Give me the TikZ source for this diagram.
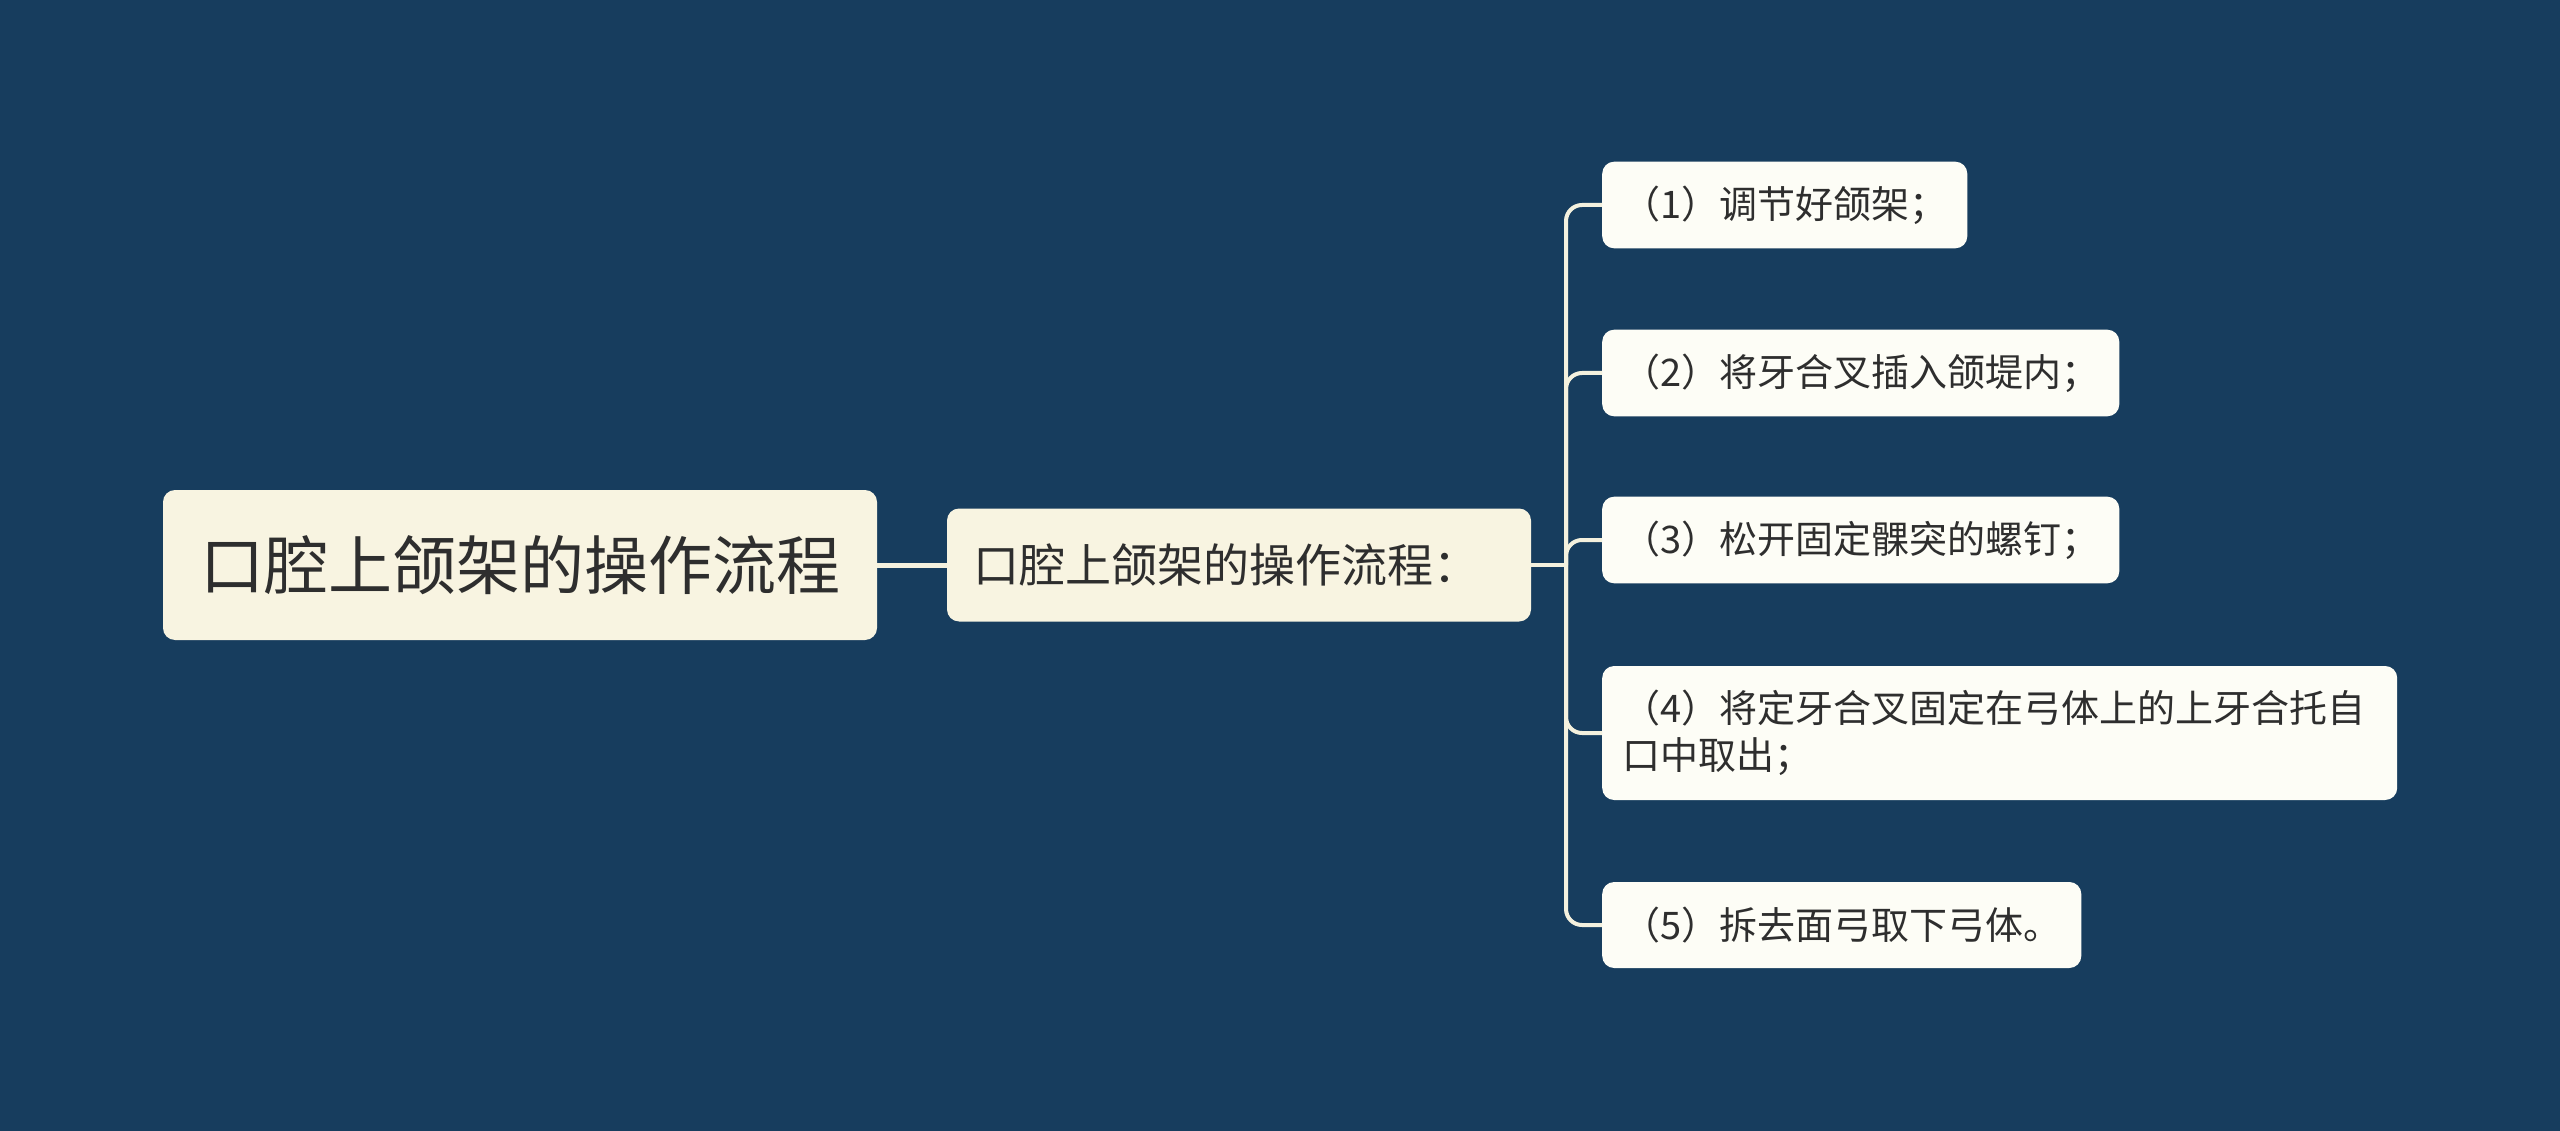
\documentclass[tikz,border=0pt]{standalone}
\usepackage{fontspec}
\newfontfamily\cjk{Noto Sans CJK SC}
\definecolor{bgc}{HTML}{173D5E}
\definecolor{linec}{HTML}{F4F1DE}
\definecolor{rootfill}{HTML}{F8F4E1}
\definecolor{childfill}{HTML}{FDFDF6}
\definecolor{txt}{HTML}{2E2E2E}
\tikzset{
  rootbox/.style={draw=none, fill=rootfill, rounded corners=12pt, text=txt,
    font=\cjk\fontsize{64pt}{76pt}\selectfont, minimum width=714pt, minimum height=150pt, inner sep=0pt},
  midbox/.style={draw=none, fill=rootfill, rounded corners=12pt, text=txt,
    font=\cjk\fontsize{46pt}{56pt}\selectfont, text width=532pt, align=left, inner xsep=26pt, minimum height=113pt},
  leafbox/.style={draw=none, fill=childfill, rounded corners=12pt, text=txt,
    font=\cjk\fontsize{38pt}{47pt}\selectfont, inner xsep=20pt, inner ysep=24pt, minimum height=86pt, anchor=west},
  rootlink/.style={draw=linec, line width=5pt},
  leaflink/.style={draw=linec, line width=4pt, rounded corners=16pt},
}
\begin{document}
\begin{tikzpicture}[x=1pt,y=-1pt]
\fill[bgc] (0,0) rectangle (2560,1131);
\useasboundingbox (0,0) rectangle (2560,1131);

\node[rootbox] (root) at (520,565) {口腔上颌架的操作流程};
\node[midbox] (mid) at (1239,565) {口腔上颌架的操作流程：};

\node[leafbox] (c1) at (1602,205) {（1）调节好颌架；};
\node[leafbox] (c2) at (1602,373) {（2）将牙合叉插入颌堤内；};
\node[leafbox] (c3) at (1602,540) {（3）松开固定髁突的螺钉；};
\node[leafbox, text width=755pt, align=left, minimum height=134pt] (c4) at (1602,733) {（4）将定牙合叉固定在弓体上的上牙合托自\\口中取出；};
\node[leafbox] (c5) at (1602,925) {（5）拆去面弓取下弓体。};

\coordinate (trunk) at (1566,565);

\draw[rootlink] (root.east) -- (mid.west);
\draw[leaflink, rounded corners=0pt] (mid.east) -- (trunk);
\foreach \c in {c1,c2,c3,c4,c5}{
  \draw[leaflink] (trunk) |- (\c.west);
}
\end{tikzpicture}
\end{document}
